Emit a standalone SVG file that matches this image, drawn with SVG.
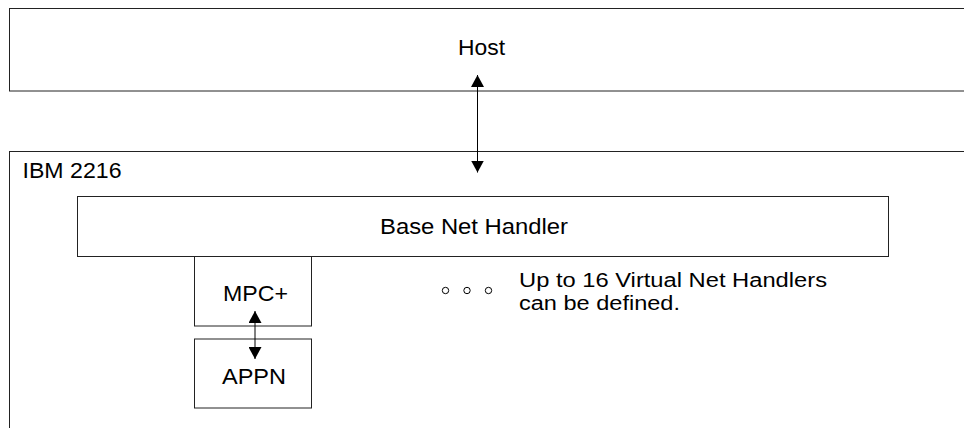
<svg xmlns="http://www.w3.org/2000/svg" width="964" height="428" viewBox="0 0 964 428">
<style>
.box{fill:#fff;stroke:#222;stroke-width:1}
.lbl{font-family:"Liberation Sans",Arial,sans-serif;font-size:22px;fill:#000}
.note{font-family:"Liberation Sans",Arial,sans-serif;font-size:20px;fill:#000}
.conn{stroke:#000;stroke-width:1;fill:none}
.dot{fill:none;stroke:#000;stroke-width:1}
</style>
<defs>
<marker id="ah" viewBox="0 0 12 13" refX="12" refY="6.5" markerWidth="12" markerHeight="13" markerUnits="userSpaceOnUse" orient="auto-start-reverse">
<path d="M0,0 L12,6.5 L0,13 z" fill="#000"/>
</marker>
</defs>
<rect width="964" height="428" fill="#fff"/>
<g id="host">
<rect class="box" x="9.5" y="8.5" width="980" height="82.5"/>
<text class="lbl" x="458" y="55" textLength="47" lengthAdjust="spacingAndGlyphs">Host</text>
</g>
<g id="ibm2216">
<rect class="box" x="9.5" y="151.5" width="980" height="300"/>
<text class="lbl" x="22.5" y="177.5" textLength="99" lengthAdjust="spacingAndGlyphs">IBM 2216</text>
</g>
<g id="base-net-handler">
<rect class="box" x="77.5" y="196.5" width="811" height="60"/>
<text class="lbl" x="380" y="233.5" textLength="188" lengthAdjust="spacingAndGlyphs">Base Net Handler</text>
</g>
<g id="mpc">
<rect class="box" x="194.5" y="256.5" width="117" height="69.5"/>
<text class="lbl" x="223" y="301" textLength="65" lengthAdjust="spacingAndGlyphs">MPC+</text>
</g>
<g id="appn">
<rect class="box" x="194.5" y="339" width="117" height="69"/>
<text class="lbl" x="222" y="383.5" textLength="64" lengthAdjust="spacingAndGlyphs">APPN</text>
</g>
<g id="virtual-note">
<circle class="dot" cx="445.5" cy="290.5" r="3.2"/>
<circle class="dot" cx="467" cy="290.5" r="3.2"/>
<circle class="dot" cx="488.5" cy="290.5" r="3.2"/>
<text class="note" x="519" y="287" textLength="308" lengthAdjust="spacingAndGlyphs">Up to 16 Virtual Net Handlers</text>
<text class="note" x="519" y="310" textLength="161" lengthAdjust="spacingAndGlyphs">can be defined.</text>
</g>
<g id="connectors">
<line class="conn" x1="477.5" y1="75" x2="477.5" y2="172.5" marker-start="url(#ah)" marker-end="url(#ah)"/>
<line class="conn" x1="255" y1="311" x2="255" y2="359" marker-start="url(#ah)" marker-end="url(#ah)"/>
</g>
</svg>
